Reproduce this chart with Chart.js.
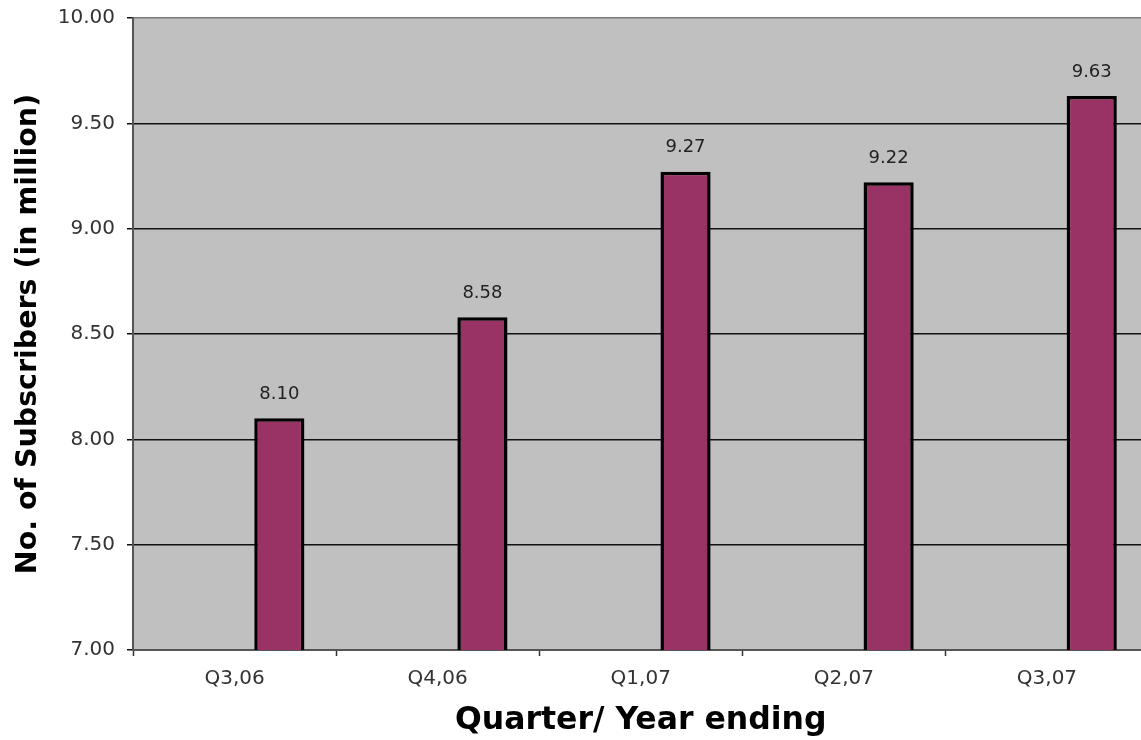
<!DOCTYPE html>
<html>
<head>
<meta charset="utf-8">
<title>Subscribers by quarter</title>
<script src="https://cdn.jsdelivr.net/npm/chart.js@4.4.1/dist/chart.umd.min.js"></script>
<style>
  html, body { margin: 0; padding: 0; background: #fff; overflow: hidden; }
  #chart { display: block; }
</style>
</head>
<body>
<canvas id="chart" width="1160" height="740"></canvas>
<script>
// dati del grafico
const quarters = ["Q3,06", "Q4,06", "Q1,07", "Q2,07", "Q3,07"];
const subscribers = [8.10, 8.58, 9.27, 9.22, 9.63];
const emptySeries = [null, null, null, null, null]; // serie vuota, sposta le barre a destra
const yMin = 7;
const yMax = 10;
const yStep = 0.5;

const FONT = "'DejaVu Sans', Verdana, sans-serif";

// sfondo grigio dell'area del grafico
const plotBackground = {
    id: "plotBackground",
    beforeDraw(chart) {
        const { ctx, chartArea } = chart;
        ctx.save();
        ctx.fillStyle = "#c0c0c0";
        ctx.fillRect(chartArea.left, chartArea.top, chartArea.right - chartArea.left, chartArea.bottom - chartArea.top);
        ctx.restore();
    }
};

// etichette con il valore sopra ogni barra
const valueLabels = {
    id: "valueLabels",
    afterDatasetsDraw(chart) {
        const { ctx } = chart;
        const meta = chart.getDatasetMeta(1);
        ctx.save();
        ctx.font = "18px " + FONT;
        ctx.fillStyle = "#222";
        ctx.textAlign = "center";
        ctx.textBaseline = "middle";
        meta.data.forEach((bar, i) => {
            ctx.fillText(subscribers[i].toFixed(2), bar.x, bar.y - 24);
        });
        ctx.restore();
    }
};

const ctx = document.getElementById("chart").getContext("2d");
new Chart(ctx, {
    type: "bar",
    data: {
        labels: quarters,
        datasets: [
            {
                data: emptySeries,
                backgroundColor: "#993366"
            },
            {
                data: subscribers,
                backgroundColor: "#993366",
                borderColor: "#000",
                borderWidth: 3.5,
                borderSkipped: false
            }
        ]
    },
    options: {
        responsive: false,
        animation: false,
        categoryPercentage: 0.882,
        barPercentage: 0.56,
        layout: { padding: { top: 18, right: 11.5, left: 0, bottom: 0 } },
        plugins: {
            legend: { display: false },
            tooltip: { enabled: false }
        },
        scales: {
            x: {
                afterFit: (scale) => { scale.height = 90; },
                grid: {
                    drawOnChartArea: false,
                    tickLength: 6,
                    tickColor: "#333",
                    tickWidth: 1.5
                },
                border: { color: "#555", width: 2 },
                ticks: {
                    color: "#333",
                    font: { family: FONT, size: 20 },
                    padding: 11
                },
                title: {
                    display: true,
                    text: "Quarter/ Year ending",
                    color: "#000",
                    font: { family: FONT, size: 31.5, weight: "bold" },
                    padding: { top: 0, bottom: 0 }
                }
            },
            y: {
                min: yMin,
                max: yMax,
                afterFit: (scale) => {
                    scale.width = 133;
                    scale.paddingTop = 0;
                    scale.paddingBottom = 0;
                },
                grid: {
                    color: (c) => (c.tick && c.tick.value === yMax ? "#7a7a7a" : "#111"),
                    lineWidth: 1.5,
                    tickLength: 6,
                    tickColor: "#111"
                },
                border: { color: "#555", width: 2 },
                ticks: {
                    stepSize: yStep,
                    color: "#333",
                    font: { family: FONT, size: 20 },
                    padding: 12,
                    callback: (v) => Number(v).toFixed(2)
                },
                title: {
                    display: true,
                    text: "No. of Subscribers (in million)",
                    color: "#000",
                    font: { family: FONT, size: 28.5, weight: "bold" },
                    padding: { top: 11, bottom: 0 }
                }
            }
        }
    },
    plugins: [plotBackground, valueLabels]
});
</script>
</body>
</html>
